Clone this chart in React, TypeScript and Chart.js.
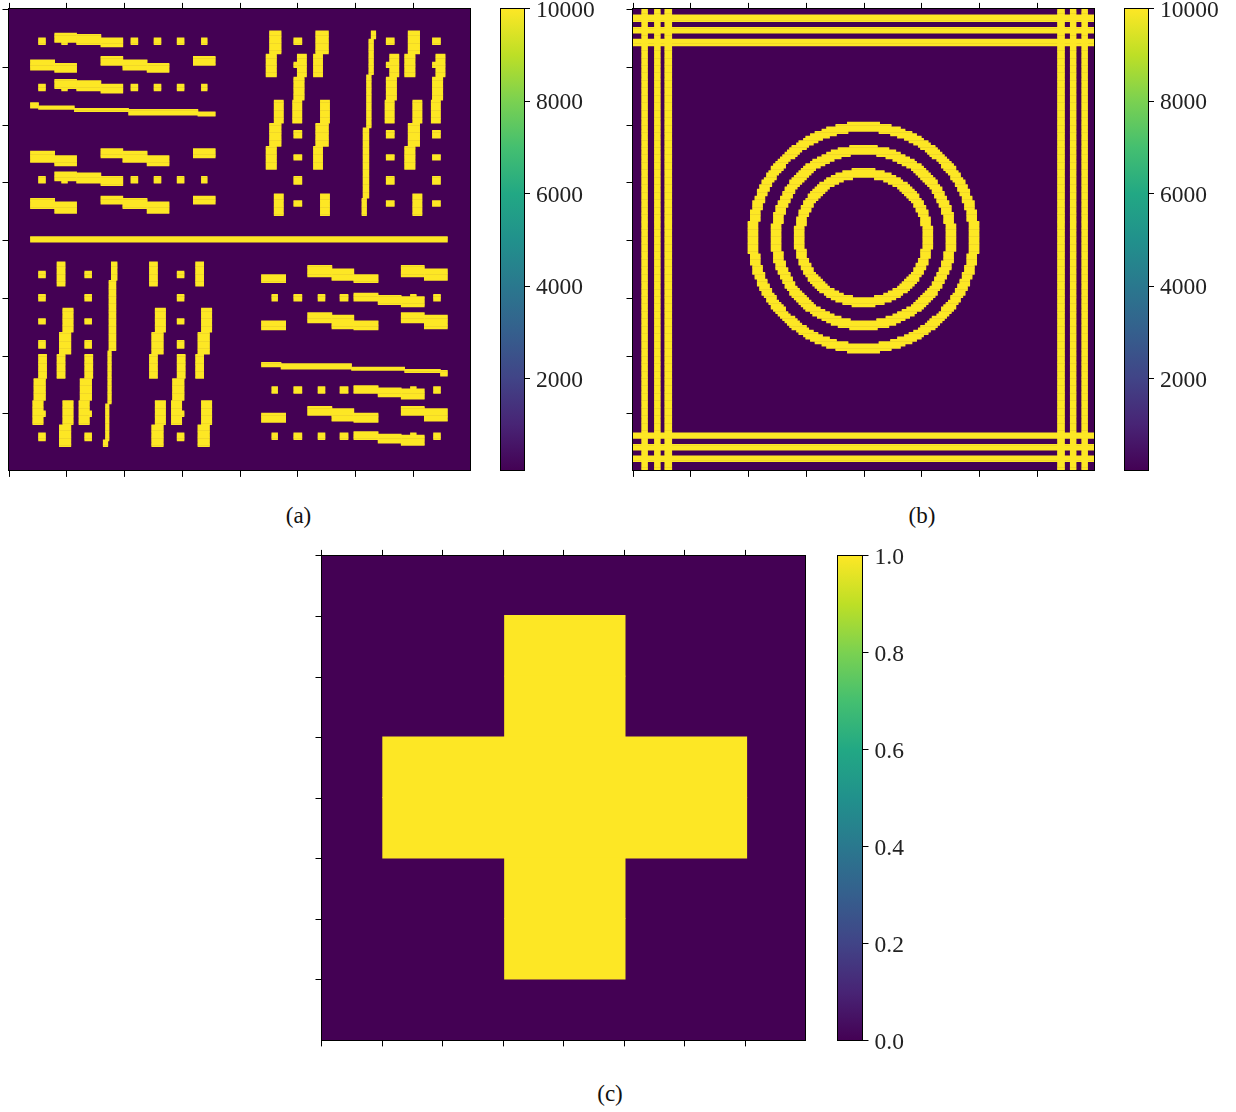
import React, { useEffect, useRef } from "react";
import { Chart, registerables } from "chart.js";

Chart.register(...registerables);

type Rect = [number, number, number, number]; // column from, column to, row from, row to

// ---------- panel (a), cells ----------
const dotsAndBlobs: Rect[] = [
  [13, 16, 12.5, 15.5], [20, 29.5, 10.5, 14.5], [23, 25.5, 14.5, 15.5], [29.5, 40, 11, 15.5], [40, 49.5, 12.5, 16.5],
  [53, 56, 12.5, 15.5], [63, 66, 12.5, 15.5], [73, 76, 12.5, 15.5], [83.5, 86, 12.5, 15.5],
];
const barsRow2: Rect[] = [
  [9.5, 20, 22, 26.5], [20, 29.5, 23.5, 27.5], [40, 49.5, 20.5, 24.5], [49.5, 60, 22, 26.5], [60, 69.5, 23.5, 27.5], [80, 89.5, 20.5, 24.5],
];
const thinRow: Rect[] = [
  [9.5, 13, 40.5, 43], [13, 28.5, 42, 43.5], [28.5, 52, 43, 44.5], [52, 82, 43.5, 46], [82, 89.5, 44.5, 46.5],
];
const barsRow5: Rect[] = [
  [9.5, 20, 61.5, 66.5], [20, 29.5, 63.5, 68], [40, 49.5, 60.5, 64.5], [49.5, 60, 61.5, 66.5], [60, 69.5, 63.5, 68], [80, 89.5, 60.5, 64.5],
];
const barsRow7: Rect[] = [
  [9.5, 20, 82, 86.5], [20, 29.5, 83.5, 88.5], [40, 49.5, 81, 84.5], [49.5, 60, 82, 86.5], [60, 69.5, 83.5, 88.5], [80, 89.5, 81, 84.5],
];
const centreLine: Rect[] = [[9.5, 190, 98.5, 101]];

const trColumnA: Rect[] = [
  [113, 118, 9.5, 19.5], [111.5, 116, 19.5, 29.5], [115, 119, 39.5, 49.5], [113, 118, 49.5, 59.5], [111.5, 116, 59.5, 69.5], [115, 119, 80, 89.5],
];
const trColumnB: Rect[] = [
  [123.5, 127, 12.5, 15.5], [125, 129, 19.5, 29.5], [123.5, 125, 23, 25.5], [123.5, 128, 29.5, 39.5], [123, 127, 39.5, 49.5],
  [123.5, 127, 52.5, 56], [123.5, 127, 63, 65.5], [123.5, 127, 72.5, 76], [123.5, 127, 83, 85.5],
];
const trColumnC: Rect[] = [
  [133, 138.5, 9.5, 19.5], [132, 136, 19.5, 29.5], [135, 139, 39.5, 49.5], [133, 138.5, 49.5, 59.5], [132, 136, 59.5, 69.5], [135, 139, 80, 89.5],
];
const trThinColumn: Rect[] = [
  [157, 159, 9.5, 13], [156, 158, 13, 28.5], [155, 157, 28.5, 51.5], [153.5, 156, 51.5, 82], [153, 155, 82, 89.5],
];

const blColumnA: Rect[] = [
  [13, 16, 113.5, 116.5], [13, 16, 123.5, 126.5], [13, 16, 134, 136.5], [13, 16, 143.5, 147],
  [13, 16.5, 149.5, 160], [11, 16, 160, 169.5], [10.5, 15, 169.5, 180], [15, 16, 174, 176.5], [13, 16, 183.5, 187],
];
const blColumnB: Rect[] = [
  [21, 24.5, 109.5, 120], [23.5, 28, 129.5, 140], [22, 27, 140, 149.5], [21, 24.5, 149.5, 160], [23.5, 28, 169.5, 180], [22, 27, 180, 189.5],
];
const blThinColumn: Rect[] = [
  [44.5, 47, 109.5, 117.5], [43.5, 46.5, 117.5, 148], [43, 44.5, 148, 171], [42, 43.5, 171, 187], [41, 43, 186.5, 189.5],
];

const brRow1: Rect[] = [
  [109.5, 120, 115, 118.5], [129.5, 140, 111, 116], [140, 149.5, 112.5, 117.5], [149.5, 160, 115, 118.5], [170, 180, 111, 116], [180, 190, 112.5, 117.5],
];
const brRow2: Rect[] = [
  [114, 116.5, 123.5, 126.5], [123.5, 127, 123.5, 126.5], [134, 137, 123.5, 126.5], [143.5, 147, 123.5, 126.5],
  [149.5, 160, 123, 126.5], [160, 170, 124, 128], [170, 180, 124.5, 129], [174, 176.5, 123.5, 124.5], [184, 187, 123.5, 126.5],
];
const brRow3: Rect[] = [
  [109.5, 120, 135, 139], [129.5, 140, 131.5, 136], [140, 149.5, 132.5, 138.5], [149.5, 160, 135, 139], [170, 180, 131.5, 136], [180, 190, 132.5, 138.5],
];
const brThinRow: Rect[] = [
  [109.5, 118, 153, 155], [118, 148.5, 153.5, 156], [148.5, 171.5, 155, 156.5], [171.5, 187, 156, 157.5], [187, 190, 156.5, 159],
];
const brRow6: Rect[] = [
  [109.5, 120, 175, 179], [129.5, 140, 172, 176], [140, 149.5, 173, 178.5], [149.5, 160, 175, 179], [170, 180, 172, 176], [180, 190, 173, 178.5],
];

// ---------- panel (b) ----------
const frameColumns: Rect[] = [
  [4, 6.5, 0, 200], [9.5, 12, 0, 200], [14, 17, 0, 200], [184, 187, 0, 200], [189.5, 192, 0, 200], [194.5, 197, 0, 200],
];
const frameRows: Rect[] = [
  [0, 200, 2.5, 5.5], [0, 200, 8, 10.5], [0, 200, 13, 16], [0, 200, 183.5, 186], [0, 200, 188.5, 191], [0, 200, 193.5, 196],
];
// half width of each ring edge, row by row going away from the ring centre
const ring50 = [50,50,50,50,50,50,50,49,49,49,49,49,48,48,48,48,47,47,46,46,46,45,45,44,44,43,42,42,41,40,40,39,38,37,36,35,34,33,32,31,29,28,26,25,23,21,18,16,12,7];
const ring46 = [46,46,46,46,46,46,46,45,45,45,45,45,44,44,44,43,43,43,42,42,41,41,40,40,39,38,38,37,36,35,34,34,33,32,30,29,28,27,25,24,22,20,18,15,12,7];
const ring40 = [40,40,40,40,40,40,39,39,39,39,39,38,38,38,37,37,36,36,35,35,34,34,33,32,32,31,30,29,28,27,26,25,23,22,20,18,16,14,11,6];
const ring36 = [36,36,36,36,36,36,35,35,35,35,34,34,34,33,33,32,32,31,31,30,30,29,28,27,26,25,24,23,22,21,19,17,15,13,10,6];
const ring30 = [30,30,30,30,30,29,29,29,29,28,28,28,27,27,26,26,25,24,24,23,22,21,20,19,17,16,14,12,9,5];
const ring26 = [26,26,26,26,26,25,25,25,25,24,24,23,23,22,22,21,20,19,18,17,16,15,13,11,9,5];
const ringPairs: number[][][] = [[ring50, ring46], [ring40, ring36], [ring30, ring26]];
const ringCentreColumn = 100;
const ringCentreRow = 99;
const ringInnerTrim = 0.3;

// ---------- panel (c) ----------
const crossCells: Rect[] = [[3.029, 5.015, 0.985, 2.985], [1.015, 7.025, 2.99, 4.99], [3.029, 5.015, 4.985, 6.985]];

// ---------- axes ----------
const gridExtent = 200;
const gridTicks = [0, 25, 50, 75, 100, 125, 150, 175];
const gridTickOffset = 0.3;
const crossExtent = 8;
const crossTicks = [0, 1, 2, 3, 4, 5, 6, 7];
const countBarTicks = [2000, 4000, 6000, 8000, 10000];
const countBarMax = 10000;
const unitBarTicks = [0, 0.2, 0.4, 0.6, 0.8, 1];
const unitBarMax = 1;

// ---------- colours ----------
const LOW = "#440154";
const HIGH = "#fde725";
const viridisStops = ["#440154", "#482475", "#414487", "#355f8d", "#2a788e", "#21918c", "#22a884", "#44bf70", "#7ad151", "#bddf26", "#fde725"];

const shift = (rects: Rect[], dx: number, dy: number): Rect[] =>
  rects.map(([a, b, c, d]) => [a + dx, b + dx, c + dy, d + dy] as Rect);

const panelA: Rect[] = [
  ...dotsAndBlobs, ...barsRow2, ...shift(dotsAndBlobs, 0, 20), ...thinRow, ...barsRow5, ...shift(dotsAndBlobs, 0, 60), ...barsRow7,
  ...centreLine,
  ...trColumnA, ...trColumnB, ...trColumnC, ...trThinColumn, ...shift(trColumnB, 40, 0), ...shift(trColumnA, 60, 0), ...shift(trColumnB, 60, 0),
  ...blColumnA, ...blColumnB, ...shift(blColumnA, 20, 0), ...blThinColumn, ...shift(blColumnB, 40, 0), ...shift(blColumnA, 60, 0), ...shift(blColumnB, 60, 0),
  ...brRow1, ...brRow2, ...brRow3, ...brThinRow, ...shift(brRow2, 0, 40), ...brRow6, ...shift(brRow2, 0, 60),
];

const ringRects = (): Rect[] => {
  const out: Rect[] = [];
  for (const [outer, inner] of ringPairs) {
    outer.forEach((h, k) => {
      const i = inner[k];
      for (const row of [ringCentreRow - 1 - k, ringCentreRow + k]) {
        if (i === undefined) out.push([ringCentreColumn - h, ringCentreColumn + h, row, row + 1]);
        else {
          out.push([ringCentreColumn - h, ringCentreColumn - i + ringInnerTrim, row, row + 1]);
          out.push([ringCentreColumn + i - ringInnerTrim, ringCentreColumn + h, row, row + 1]);
        }
      }
    });
  }
  return out;
};
const panelB: Rect[] = [...frameColumns, ...frameRows, ...ringRects()];

const toBars = (rects: Rect[], step: number) => {
  const out: { x: number[]; y: number }[] = [];
  for (const [x0, x1, y0, y1] of rects) {
    for (let y = y0; y < y1 - 0.01; y += step) out.push({ x: [x0, x1], y: y + step / 2 });
  }
  return out;
};

const backgroundPlugin = {
  id: "cellBackground",
  beforeDatasetsDraw(chart: any) {
    const { ctx, chartArea: a } = chart;
    ctx.save();
    ctx.fillStyle = LOW;
    ctx.fillRect(a.left, a.top, a.right - a.left, a.bottom - a.top);
    ctx.restore();
  },
};

const zeroSize = (s: any) => {
  if (s.isHorizontal()) s.height = 0;
  else s.width = 0;
};
const border = { display: true, color: "#000", width: 1, z: 1 };
const tickedAxis = (position: string, extent: number, ticks: number[], extra: any = {}) => ({
  type: "linear",
  position,
  min: 0,
  max: extent,
  offset: false,
  afterFit: zeroSize,
  afterBuildTicks: (s: any) => { s.ticks = ticks.map((value) => ({ value })); },
  ticks: { display: false, autoSkip: false },
  grid: { display: true, offset: false, drawOnChartArea: false, drawTicks: true, tickLength: 6, tickWidth: 1, tickColor: "#000", color: "#000" },
  border,
  ...extra,
});
const plainAxis = (position: string, extent: number, extra: any = {}) => ({
  type: "linear",
  position,
  min: 0,
  max: extent,
  offset: false,
  afterFit: zeroSize,
  ticks: { display: false, autoSkip: false },
  grid: { display: false },
  border,
  ...extra,
});

type Box = { left: number; top: number; width: number; height: number };
type Plot = { left: number; top: number; right: number; bottom: number };
const paddingOf = (box: Box, p: Plot) => ({
  left: p.left - box.left,
  top: p.top - box.top,
  right: box.left + box.width - p.right,
  bottom: box.top + box.height - p.bottom,
});

function heatConfig(rects: Rect[], step: number, inflate: number, extent: number, ticks: number[], box: Box, plot: Plot): any {
  return {
    type: "bar",
    plugins: [backgroundPlugin],
    data: {
      datasets: [{
        data: toBars(rects, step),
        backgroundColor: HIGH,
        borderWidth: 0,
        inflateAmount: inflate,
        categoryPercentage: 1,
        barPercentage: 1,
        xAxisID: "x",
        yAxisID: "y",
      }],
    },
    options: {
      indexAxis: "y",
      animation: false,
      responsive: false,
      events: [],
      layout: { autoPadding: false, padding: paddingOf(box, plot) },
      plugins: { legend: { display: false }, tooltip: { enabled: false }, title: { display: false } },
      scales: {
        x: tickedAxis("bottom", extent, ticks),
        xTop: tickedAxis("top", extent, ticks),
        y: tickedAxis("left", extent, ticks, { reverse: true }),
        yRight: plainAxis("right", extent, { reverse: true }),
      },
    },
  };
}

function barConfig(max: number, ticks: number[], format: (v: number) => string, box: Box, plot: Plot): any {
  const padding = paddingOf(box, plot);
  const labelRoom = padding.right;
  return {
    type: "bar",
    data: {
      labels: ["scale"],
      datasets: [{
        data: [[0, max]],
        borderWidth: 0,
        categoryPercentage: 1,
        barPercentage: 1,
        backgroundColor: (c: any) => {
          const a = c.chart.chartArea;
          if (!a) return LOW;
          const g = c.chart.ctx.createLinearGradient(0, a.bottom, 0, a.top);
          viridisStops.forEach((col, i) => g.addColorStop(i / (viridisStops.length - 1), col));
          return g;
        },
        xAxisID: "x",
        yAxisID: "y",
      }],
    },
    options: {
      animation: false,
      responsive: false,
      events: [],
      layout: { autoPadding: false, padding: { ...padding, right: 0 } },
      plugins: { legend: { display: false }, tooltip: { enabled: false }, title: { display: false } },
      scales: {
        x: { type: "category", position: "bottom", afterFit: zeroSize, ticks: { display: false }, grid: { display: false }, border },
        xTop: { type: "category", position: "top", afterFit: zeroSize, ticks: { display: false }, grid: { display: false }, border },
        yLeft: plainAxis("left", max),
        y: tickedAxis("right", max, ticks, {
          afterFit: (s: any) => {
            s.width = labelRoom;
            s.paddingTop = 0;
            s.paddingBottom = 0;
            s.paddingLeft = 0;
            s.paddingRight = 0;
          },
          ticks: {
            display: true,
            autoSkip: false,
            maxRotation: 0,
            padding: 6,
            color: "#222",
            labelOffset: 2,
            font: { family: '"Liberation Serif", serif', size: 23.5 },
            callback: (v: number) => format(v),
          },
        }),
      },
    },
  };
}

const countLabel = (v: number) => String(v);
const unitLabel = (v: number) => v.toFixed(1);

type Spec = { key: string; box: Box; config: any };
const plotA: Plot = { left: 8.5, top: 8.9, right: 470.5, bottom: 470.9 };
const plotB: Plot = { left: 632.5, top: 8.9, right: 1094.5, bottom: 470.9 };
const plotC: Plot = { left: 321.5, top: 555.9, right: 805.5, bottom: 1040.4 };
const boxA: Box = { left: 0, top: 0, width: 490, height: 490 };
const boxB: Box = { left: 620, top: 0, width: 490, height: 490 };
const boxC: Box = { left: 300, top: 540, width: 520, height: 520 };
const boxBarA: Box = { left: 490, top: 0, width: 125, height: 490 };
const boxBarB: Box = { left: 1112, top: 0, width: 124, height: 490 };
const boxBarC: Box = { left: 825, top: 540, width: 110, height: 520 };

const specs: Spec[] = [
  { key: "a", box: boxA, config: heatConfig(panelA, 0.5, 0.3, gridExtent, gridTicks.map((t) => t + gridTickOffset), boxA, plotA) },
  { key: "b", box: boxB, config: heatConfig(panelB, 0.5, 0.3, gridExtent, gridTicks.map((t) => t + gridTickOffset), boxB, plotB) },
  { key: "c", box: boxC, config: heatConfig(crossCells, 1, 0.6, crossExtent, crossTicks, boxC, plotC) },
  { key: "barA", box: boxBarA, config: barConfig(countBarMax, countBarTicks, countLabel, boxBarA, { left: 500.5, top: 8.9, right: 524, bottom: 470.9 }) },
  { key: "barB", box: boxBarB, config: barConfig(countBarMax, countBarTicks, countLabel, boxBarB, { left: 1124.5, top: 8.9, right: 1148, bottom: 470.9 }) },
  { key: "barC", box: boxBarC, config: barConfig(unitBarMax, unitBarTicks, unitLabel, boxBarC, { left: 837.5, top: 555.9, right: 862.5, bottom: 1040.4 }) },
];

const captions = [
  { text: "(a)", x: 298.5, y: 516 },
  { text: "(b)", x: 922, y: 516 },
  { text: "(c)", x: 610, y: 1094 },
];

function Panel({ spec }: { spec: Spec }) {
  const ref = useRef<HTMLCanvasElement>(null);
  useEffect(() => {
    const chart = new Chart(ref.current as HTMLCanvasElement, spec.config);
    return () => chart.destroy();
  }, [spec]);
  const { left, top, width, height } = spec.box;
  return <canvas ref={ref} width={width} height={height} style={{ position: "absolute", left, top, width, height }} />;
}

export default function App() {
  return (
    <div style={{ position: "absolute", left: 0, top: 0, width: 1236, height: 1112, background: "#fff", overflow: "hidden" }}>
      {specs.map((s) => <Panel key={s.key} spec={s} />)}
      {captions.map((c) => (
        <div
          key={c.text}
          style={{
            position: "absolute",
            left: c.x - 40,
            top: c.y - 15,
            width: 80,
            height: 30,
            lineHeight: "30px",
            textAlign: "center",
            fontFamily: '"Liberation Serif", serif',
            fontSize: 23,
            color: "#111",
          }}
        >
          {c.text}
        </div>
      ))}
    </div>
  );
}
